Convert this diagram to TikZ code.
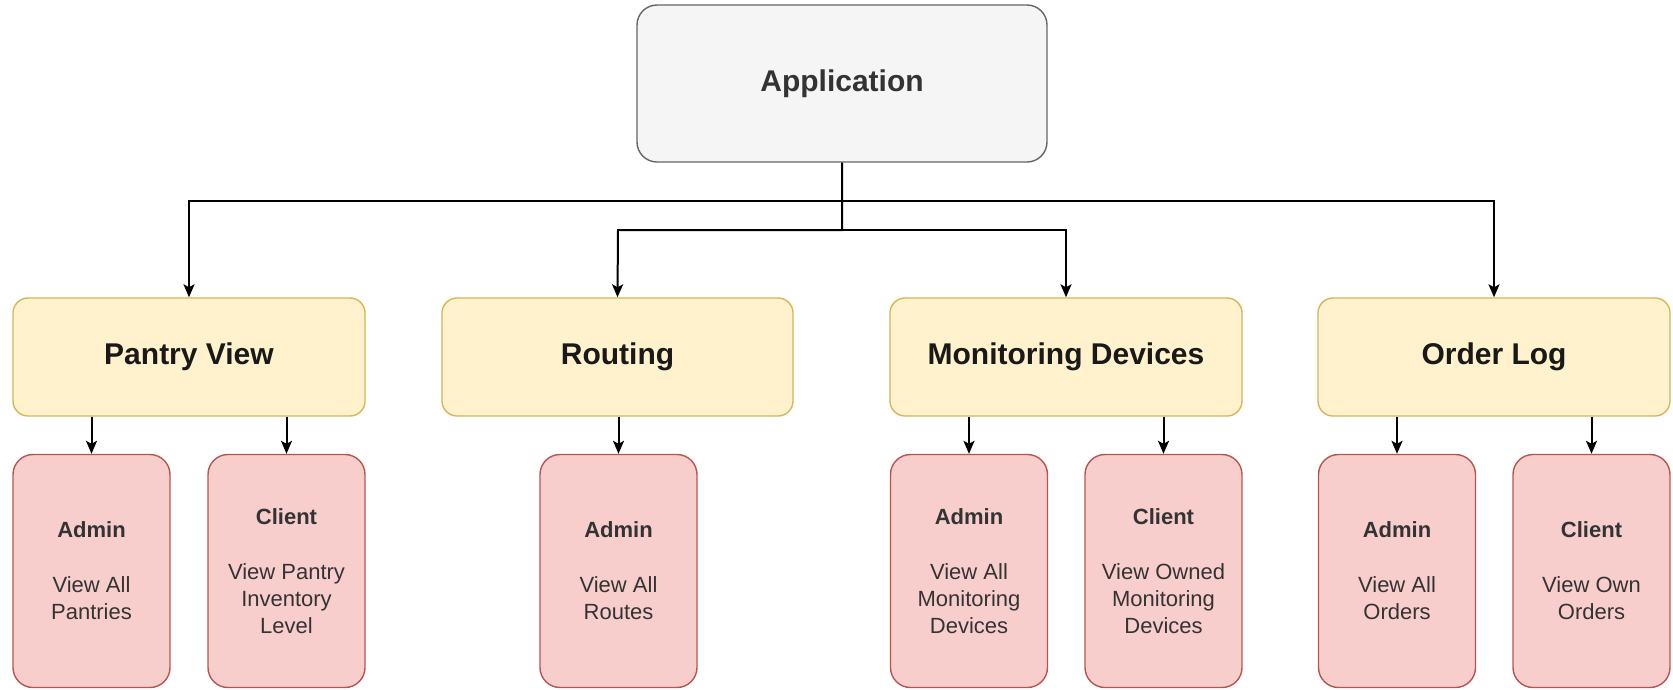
\documentclass[tikz,border=0pt]{standalone}
\usepackage{fontspec}
\setmainfont{Liberation Sans}
\usetikzlibrary{arrows.meta}
\definecolor{appfill}{HTML}{F5F5F5}
\definecolor{appline}{HTML}{666666}
\definecolor{apptext}{HTML}{333333}
\definecolor{yfill}{HTML}{FFF2CC}
\definecolor{yline}{HTML}{D6B656}
\definecolor{pfill}{HTML}{F8CECC}
\definecolor{pline}{HTML}{B85450}
\definecolor{ptext}{HTML}{333333}
\tikzset{
  appbox/.style={draw=appline, fill=appfill, line width=1.4pt, rounded corners=20pt,
    minimum width=410pt, minimum height=157pt, text=apptext,
    font=\fontsize{30}{36}\selectfont\bfseries},
  catbox/.style={draw=yline, fill=yfill, line width=1.4pt, rounded corners=15pt,
    minimum width=352pt, minimum height=118pt, text=black!90,
    font=\fontsize{30}{36}\selectfont\bfseries},
  rolebox/.style={draw=pline, fill=pfill, line width=1.4pt, rounded corners=20pt,
    minimum width=157pt, minimum height=233pt, text=ptext, align=center,
    font=\fontsize{22}{27}\selectfont},
  conn/.style={draw=black, line width=2pt, -{Stealth[length=13pt,width=11pt,inset=3pt]}}
}
\begin{document}
\begin{tikzpicture}[x=1pt,y=-1pt]
\useasboundingbox (0,0) rectangle (1673,689);
\node[appbox] (app) at (842,83.5) {Application};
\node[catbox] (pv) at (189,357) {Pantry View};
\node[catbox,minimum width=351pt] (rt) at (617.5,357) {Routing};
\node[catbox] (md) at (1066,357) {Monitoring Devices};
\node[catbox] (ol) at (1494,357) {Order Log};

\node[rolebox] (pa) at (91.5,571) {\textbf{Admin}\\[28pt]View All\\Pantries};
\node[rolebox] (pc) at (286.5,571) {\textbf{Client}\\[28pt]View Pantry\\Inventory\\Level};
\node[rolebox] (ra) at (618.5,571) {\textbf{Admin}\\[28pt]View All\\Routes};
\node[rolebox] (ma) at (969,571) {\textbf{Admin}\\[28pt]View All\\Monitoring\\Devices};
\node[rolebox] (mc) at (1163.5,571) {\textbf{Client}\\[28pt]View Owned\\Monitoring\\Devices};
\node[rolebox] (oa) at (1397,571) {\textbf{Admin}\\[28pt]View All\\Orders};
\node[rolebox] (oc) at (1591.5,571) {\textbf{Client}\\[28pt]View Own\\Orders};

\coordinate (hiL) at (189,201);
\coordinate (loL) at (618,230);
\draw[conn] (app.south) |- (hiL) -- (pv.north);
\draw[conn] (app.south) |- (hiL -| ol.north) -- (ol.north);
\draw[conn] (app.south) |- (loL) -- (rt.north);
\draw[conn] (app.south) |- (loL -| md.north) -- (md.north);

\draw[conn] (pv.south -| pa.north) -- (pa.north);
\draw[conn] (pv.south -| pc.north) -- (pc.north);
\draw[conn] (rt.south -| ra.north) -- (ra.north);
\draw[conn] (md.south -| ma.north) -- (ma.north);
\draw[conn] (md.south -| mc.north) -- (mc.north);
\draw[conn] (ol.south -| oa.north) -- (oa.north);
\draw[conn] (ol.south -| oc.north) -- (oc.north);
\end{tikzpicture}
\end{document}
